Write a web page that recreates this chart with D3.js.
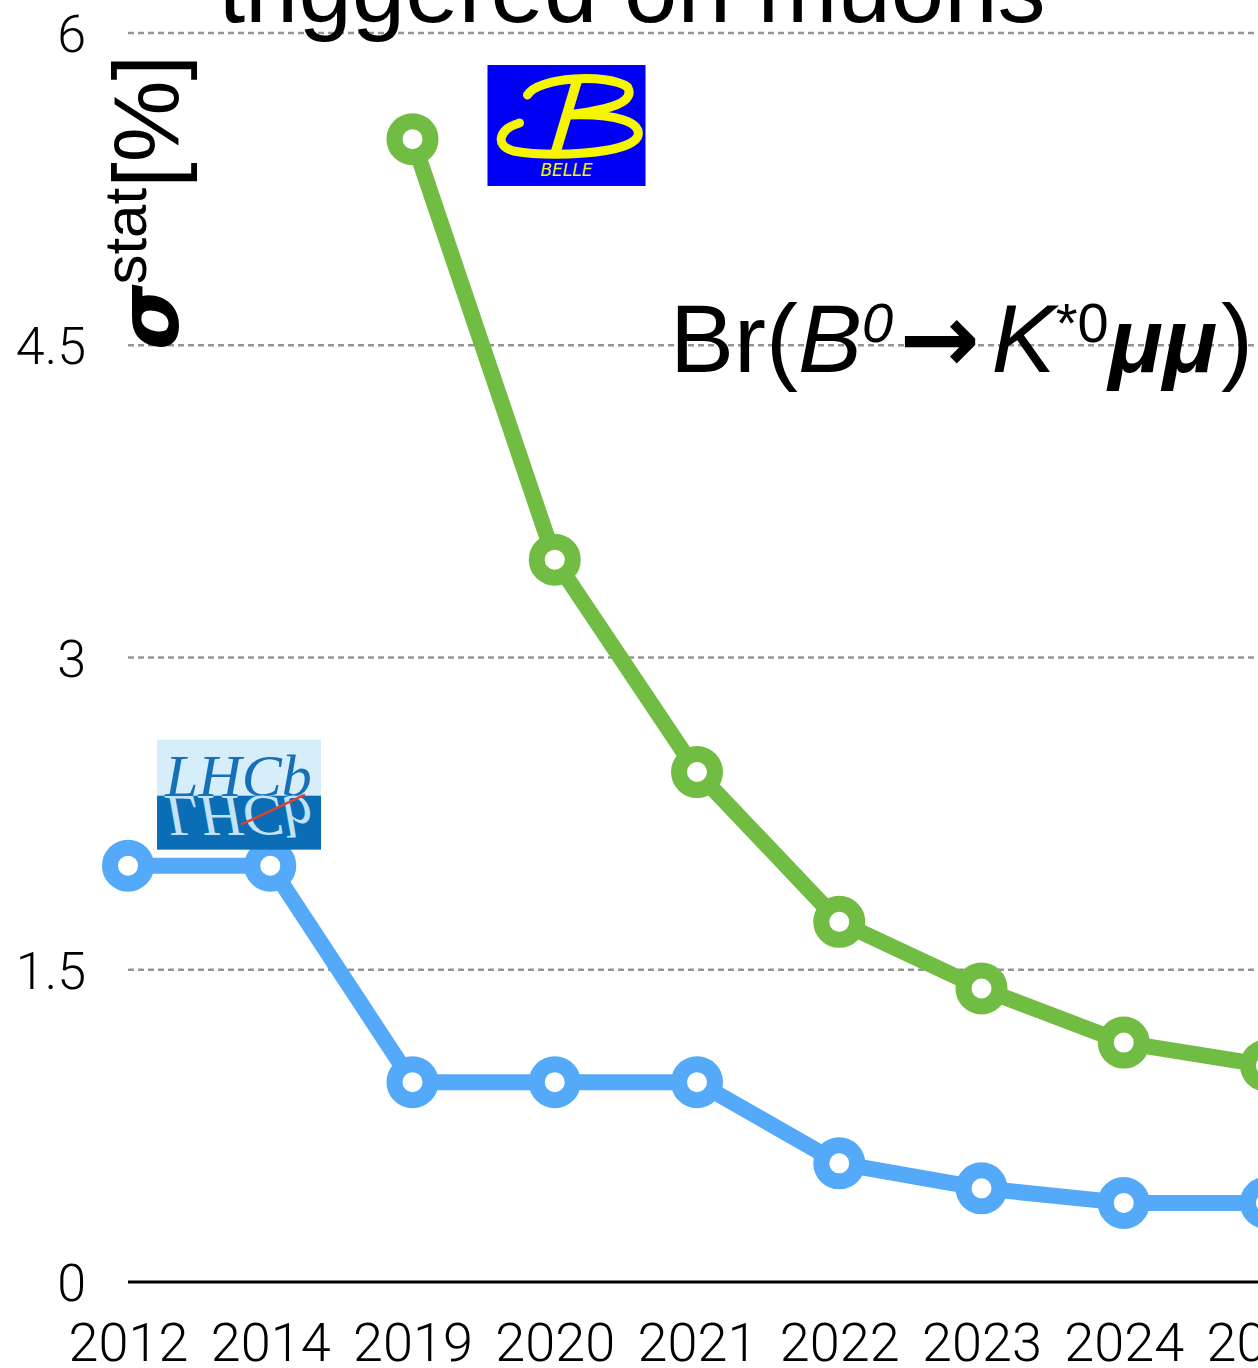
<!DOCTYPE html>
<html>
<head>
<meta charset="utf-8">
<script src="https://cdn.jsdelivr.net/npm/d3@7/dist/d3.min.js"></script>
<style>
  html, body { margin: 0; padding: 0; background: #fff; overflow: hidden; }
  svg { display: block; }
</style>
</head>
<body>
<script>
// Statistical precision projections per year
const years = ["2012", "2014", "2019", "2020", "2021", "2022", "2023", "2024", "2025"];
const lhcbValues = [2.0, 2.0, 0.96, 0.96, 0.96, 0.57, 0.45, 0.38, 0.38];
const belleYears = ["2019", "2020", "2021", "2022", "2023", "2024", "2025"];
const belleValues = [5.49, 3.47, 2.45, 1.73, 1.41, 1.15, 1.04];
const yTicks = [0, 1.5, 3, 4.5, 6];
const yTickLabels = ["0", "1.5", "3", "4.5", "6"];

const W = 1258, H = 1368;
const svg = d3.select("body").append("svg").attr("width", W).attr("height", H);

const x = d3.scalePoint().domain(years).range([128, 1266]);
const y = d3.scaleLinear().domain([0, 6]).range([1282, 33]);

const GREEN = "#71bd44";
const BLUE = "#54a9f8";
const tickFont = "Roboto, 'Liberation Sans', sans-serif";
const textFont = "'Liberation Sans', Arial, sans-serif";

// dashed gridlines
svg.append("g").selectAll("line")
  .data(yTicks.filter(d => d > 0))
  .join("line")
  .attr("x1", x(years[0])).attr("x2", W)
  .attr("y1", d => y(d)).attr("y2", d => y(d))
  .attr("stroke", "#959595").attr("stroke-width", 2.4)
  .attr("stroke-dasharray", "6,4");

// baseline
svg.append("line")
  .attr("x1", x(years[0])).attr("x2", W)
  .attr("y1", y(0)).attr("y2", y(0))
  .attr("stroke", "#000").attr("stroke-width", 3);

// y tick labels
svg.append("g").selectAll("text")
  .data(yTicks)
  .join("text")
  .attr("x", 86).attr("y", d => y(d) + 19)
  .attr("text-anchor", "end")
  .attr("font-family", tickFont).attr("font-weight", 300)
  .attr("font-size", 52).attr("fill", "#000")
  .text((d, i) => yTickLabels[i]);

// x axis labels
const xAxis = d3.axisBottom(x).tickSize(0).tickPadding(0);
const gx = svg.append("g").attr("transform", `translate(0,${y(0)})`).call(xAxis);
gx.select(".domain").remove();
gx.selectAll("text")
  .attr("dy", 0).attr("y", 79)
  .attr("font-family", tickFont).attr("font-weight", 300)
  .attr("font-size", 54).attr("fill", "#000");

// title (partially above the frame)
svg.append("text")
  .attr("x", 632).attr("y", 22)
  .attr("text-anchor", "middle")
  .attr("font-family", textFont).attr("font-size", 96)
  .attr("fill", "#000")
  .text("triggered on muons");

// y axis title
const yt = svg.append("text")
  .attr("transform", "translate(178,350) rotate(-90)")
  .attr("font-family", textFont).attr("fill", "#000");
yt.append("tspan").attr("font-family", "'DejaVu Sans', sans-serif")
  .attr("font-weight", "bold").attr("font-style", "italic")
  .attr("font-size", 84).text("σ");
yt.append("tspan").attr("font-size", 60).attr("dy", -32).text("stat");
yt.append("tspan").attr("font-size", 92).attr("dy", 32).text("[%]");

// process annotation
const br = svg.append("text")
  .attr("x", 670).attr("y", 372)
  .attr("font-family", textFont).attr("font-size", 96).attr("fill", "#000");
br.append("tspan").text("Br(");
br.append("tspan").attr("font-style", "italic").text("B");
br.append("tspan").attr("font-style", "italic").attr("font-size", 56).attr("dy", -30).text("0");
br.append("tspan").attr("font-family", "'DejaVu Sans', sans-serif").attr("font-weight", "bold")
  .attr("font-size", 96).attr("dy", 30).attr("dx", 6).text("→");
br.append("tspan").attr("font-style", "italic").attr("dx", 12).text("K");
br.append("tspan").attr("font-size", 56).attr("dy", -30).text("*0");
br.append("tspan").attr("font-weight", "bold")
  .attr("font-style", "italic").attr("font-size", 90).attr("dy", 30).text("μμ");
br.append("tspan").attr("dx", 4).text(")");

// series lines and markers
const line = d3.line().x(d => x(d.year)).y(d => y(d.value));
const series = [
  { color: BLUE, data: years.map((yr, i) => ({ year: yr, value: lhcbValues[i] })) },
  { color: GREEN, data: belleYears.map((yr, i) => ({ year: yr, value: belleValues[i] })) }
];

series.forEach(s => {
  svg.append("path")
    .datum(s.data)
    .attr("d", line)
    .attr("fill", "none")
    .attr("stroke", s.color)
    .attr("stroke-width", 16)
    .attr("stroke-linejoin", "round");
  svg.append("g").selectAll("circle")
    .data(s.data)
    .join("circle")
    .attr("cx", d => x(d.year)).attr("cy", d => y(d.value))
    .attr("r", 18)
    .attr("fill", "#fff")
    .attr("stroke", s.color)
    .attr("stroke-width", 16);
});

// LHCb logo
const lx = x("2012") + 29, ly = y(2.0) - 126;
const lhcb = svg.append("g").attr("transform", `translate(${lx},${ly})`);
lhcb.append("rect").attr("width", 164).attr("height", 56).attr("fill", "#d5eefa");
lhcb.append("rect").attr("y", 56).attr("width", 164).attr("height", 54).attr("fill", "#0b6db6");
lhcb.append("defs").append("clipPath").attr("id", "lhcbClip")
  .append("rect").attr("width", 164).attr("height", 110);
const lg = lhcb.append("g").attr("clip-path", "url(#lhcbClip)");
lg.append("text")
  .attr("x", 8).attr("y", 56)
  .attr("font-family", "'Liberation Serif', 'DejaVu Serif', serif")
  .attr("font-style", "italic")
  .attr("font-size", 60).attr("fill", "#1670b8")
  .text("LHCb");
lg.append("text")
  .attr("transform", "translate(0,112) scale(1,-1)")
  .attr("x", 8).attr("y", 56)
  .attr("font-family", "'Liberation Serif', 'DejaVu Serif', serif")
  .attr("font-style", "italic")
  .attr("font-size", 60).attr("fill", "#c2e2f5")
  .text("LHCb");
lg.append("line")
  .attr("x1", 84).attr("y1", 85).attr("x2", 148).attr("y2", 55)
  .attr("stroke", "#e0412e").attr("stroke-width", 2.5);

// Belle logo
const bx = x("2019") + 75, by = y(6) + 32;
const belle = svg.append("g").attr("transform", `translate(${bx},${by})`);
belle.append("rect").attr("width", 158).attr("height", 121).attr("fill", "#0000f8");
belle.append("path")
  .attr("d", "M40,30 C50,12 120,8 140,22 C150,40 110,46 80,50 C130,48 156,58 150,72 C140,90 60,92 26,86 C6,80 12,64 32,58")
  .attr("fill", "none").attr("stroke", "#f5f500").attr("stroke-width", 9)
  .attr("stroke-linecap", "round");
belle.append("path")
  .attr("d", "M90,14 L68,88")
  .attr("fill", "none").attr("stroke", "#f5f500").attr("stroke-width", 10);
belle.append("text")
  .attr("x", 79).attr("y", 111).attr("text-anchor", "middle")
  .attr("font-family", "'DejaVu Sans', sans-serif").attr("font-style", "italic")
  .attr("font-size", 17).attr("fill", "#f5f500")
  .text("BELLE");
</script>
</body>
</html>
